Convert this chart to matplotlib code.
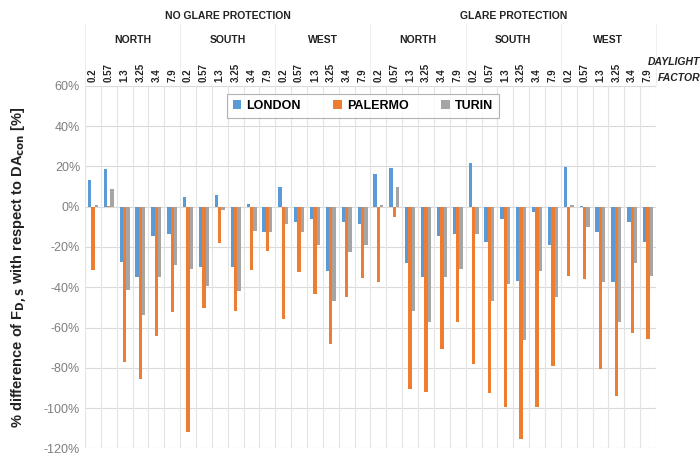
import matplotlib
matplotlib.use("Agg")
import matplotlib.pyplot as plt
import numpy as np

protections = ["NO GLARE PROTECTION", "GLARE PROTECTION"]
orientations = ["NORTH", "SOUTH", "WEST"]
daylight = ["0.2", "0.57", "1.3", "3.25", "3.4", "7.9"]
yticks = [60, 40, 20, 0, -20, -40, -60, -80, -100, -120]

london = [13.2, 18.7, -27.3, -35, -14.5, -13.6,
          5, -30, 6, -29.8, 1.3, -12.7,
          9.9, -7.4, -6.1, -31.7, -7.4, -8.6,
          16.2, 19, -27.8, -35, -14.5, -13.6,
          21.5, -17.4, -6.1, -36.7, -2.5, -19,
          19.8, 0.3, -12.7, -37.2, -7.4, -17.4]
palermo = [-31.4, 0.5, -77.3, -85.6, -64, -52.4,
           -111.6, -50.4, -17.9, -51.6, -31.4, -21.8,
           -55.9, -32.6, -43.3, -68.1, -44.6, -35.5,
           -37.2, -5, -90.6, -92.2, -70.7, -57.4,
           -78, -92.6, -99.5, -115.4, -99.2, -79.3,
           -34.4, -36, -80.5, -93.9, -62.8, -65.8]
turin = [0.8, 9, -41.3, -53.7, -35, -28.9,
         -30.9, -39.3, -1.6, -41.7, -12, -12.7,
         -8.6, -12.7, -19, -46.8, -22.3, -19,
         0.8, 9.9, -52, -57, -35, -31,
         -13.7, -46.8, -38.3, -66.4, -31.9, -44.6,
         0.8, -9.9, -37.2, -57, -28.1, -34.4]

series = [("LONDON", london, "#5B9BD5"),
          ("PALERMO", palermo, "#ED7D31"),
          ("TURIN", turin, "#A5A5A5")]

plt.rcParams['font.family'] = ['Liberation Sans', 'DejaVu Sans']

fig = plt.figure(figsize=(7.0, 4.59), dpi=100)
ax = fig.add_axes([0.1214, 0.0229, 0.8157, 0.7902])

n = len(london)
x = np.arange(n)
w = 0.21
for i, (name, vals, col) in enumerate(series):
    ax.bar(x + (i - 1) * w, vals, width=w, color=col, label=name, zorder=3)

ax.set_xlim(-0.5, n - 0.5)
ax.set_ylim(-120, 60)
ax.set_yticks(yticks)
ax.set_yticklabels([f"{v}%" for v in yticks], color="#7F7F7F", fontsize=9)

# gridlines
for v in yticks:
    ax.axhline(v, color="#D9D9D9", lw=0.8, zorder=1)
for b in np.arange(-0.5, n, 1.0):
    ax.axvline(b, color="#E3E3E3", lw=0.8, zorder=1)

ax.xaxis.tick_top()
ax.set_xticks(x)
labels = daylight * (len(protections) * len(orientations))
ax.set_xticklabels(labels, rotation=90, fontsize=7, fontweight="bold", color="#222222")
ax.tick_params(axis="both", length=0)
ax.tick_params(axis="x", pad=3)
for s in ax.spines.values():
    s.set_visible(False)

ax.set_ylabel("% difference of F$_{\\mathbf{D,S}}$ with respect to DA$_{\\mathbf{con}}$ [%]",
              fontsize=10.5, fontweight="bold", color="#222222", labelpad=10)

trans = ax.get_xaxis_transform()
ng = len(daylight)
# faint separators in header region
for j in range(0, len(protections) * len(orientations) + 1):
    ax.plot([j * ng - 0.5, j * ng - 0.5], [1.0, 1.17], transform=trans, color="#EFEFEF",
            lw=0.8, clip_on=False, zorder=0)
for j in range(len(protections) * len(orientations)):
    cx = j * ng + (ng - 1) / 2
    ax.text(cx, 1.126, orientations[j % 3], transform=trans, ha="center", va="center",
            fontsize=7.5, fontweight="bold", color="#222222")
for k, p in enumerate(protections):
    cx = k * 3 * ng + (3 * ng - 1) / 2
    ax.text(cx, 1.192, p, transform=trans, ha="center", va="center",
            fontsize=7.5, fontweight="bold", color="#222222")

fig.text(0.963, 0.865, "DAYLIGHT", ha="center", va="center", fontsize=7.5,
         fontweight="bold", fontstyle="italic", color="#222222")
fig.text(0.97, 0.83, "FACTOR", ha="center", va="center", fontsize=7.5,
         fontweight="bold", fontstyle="italic", color="#222222")

leg = ax.legend(loc="center", bbox_to_anchor=(0.487, 0.944), ncol=3, frameon=True,
                fancybox=False, edgecolor="#A0A0A0", handlelength=0.7, handleheight=0.7,
                columnspacing=2.6, handletextpad=0.4, borderpad=0.45,
                prop={"weight": "bold", "size": 9})
leg.get_frame().set_linewidth(0.8)

fig.savefig("out.png", dpi=100)
